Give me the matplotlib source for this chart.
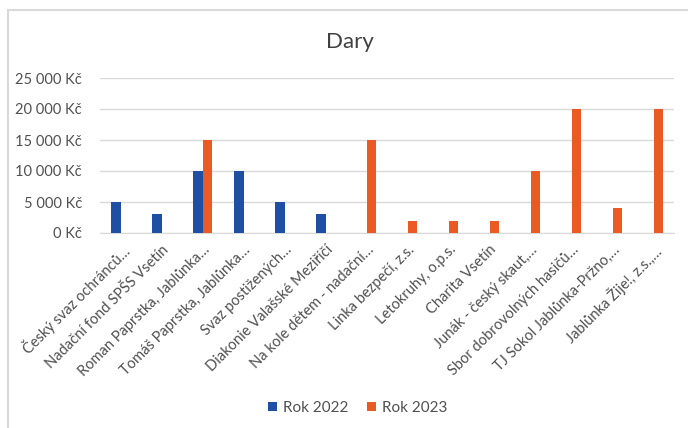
import numpy as np
import matplotlib
matplotlib.use('Agg')
import matplotlib.pyplot as plt
from matplotlib.patches import Rectangle

plt.rcParams['font.family'] = ['Lato', 'DejaVu Sans']

# --- data ---
categories = [
    "Český svaz ochránců…",
    "Nadační fond SPŠS Vsetín",
    "Roman Paprstka, Jablůnka…",
    "Tomáš Paprstka, Jablůnka…",
    "Svaz postižených…",
    "Diakonie Valašské Meziříčí",
    "Na kole dětem - nadační…",
    "Linka bezpečí, z.s.",
    "Letokruhy, o.p.s.",
    "Charita Vsetín",
    "Junák - český skaut,…",
    "Sbor dobrovolných hasičů…",
    "TJ Sokol Jablůnka-Pržno,…",
    "Jablůnka Žije!, z.s.,…",
]
rok_2022 = [5000, 3000, 10000, 10000, 5000, 3000, 0, 0, 0, 0, 0, 0, 0, 0]
rok_2023 = [0, 0, 15000, 0, 0, 0, 15000, 2000, 2000, 2000, 10000, 20000, 4000, 20000]
yticks = [0, 5000, 10000, 15000, 20000, 25000]

BLUE = '#1f4fa3'
ORANGE = '#ec5a24'
TXT = '#505050'

fig = plt.figure(figsize=(6.88, 4.28), dpi=100)
fig.patches.append(Rectangle((8 / 688, -0.1), 1.2, 1 - 10 / 428 + 0.1,
                             transform=fig.transFigure, fill=False,
                             edgecolor='#d9d9d9', linewidth=1.5))

ax = fig.add_axes([100 / 688, 1 - 233 / 428, 574 / 688, 155 / 428])
x = np.arange(len(categories))
w = 0.23
ax.bar(x - w / 2, rok_2022, w, color=BLUE, label='Rok 2022', zorder=3)
ax.bar(x + w / 2, rok_2023, w, color=ORANGE, label='Rok 2023', zorder=3)

ax.set_xlim(-0.5, len(categories) - 0.5)
ax.set_ylim(0, 25000)
ax.set_yticks(yticks)
ax.set_yticklabels([f"{v:,} Kč".replace(',', ' ') for v in yticks],
                   color=TXT, fontsize=10.5)
ax.yaxis.grid(True, color='#d9d9d9', linewidth=1, zorder=0)
ax.set_xticks(x)
ax.set_xticklabels(categories, rotation=45, ha='right', rotation_mode='anchor',
                   color=TXT, fontsize=10.5)
ax.tick_params(axis='y', length=0, pad=13)
ax.tick_params(axis='x', length=0, pad=7)
for s in ['top', 'right', 'left']:
    ax.spines[s].set_visible(False)
ax.spines['bottom'].set_color('#d9d9d9')

fig.text(350 / 688, 1 - 42 / 428, 'Dary', fontsize=16, color='#404040',
         ha='center', va='center')

fig.legend(loc='center', bbox_to_anchor=(358 / 688, 1 - 408 / 428), ncol=2,
           frameon=False, fontsize=11, handlelength=0.6, handleheight=0.6,
           columnspacing=1.2, handletextpad=0.4, labelcolor=TXT)

fig.savefig('out.png', dpi=100)
